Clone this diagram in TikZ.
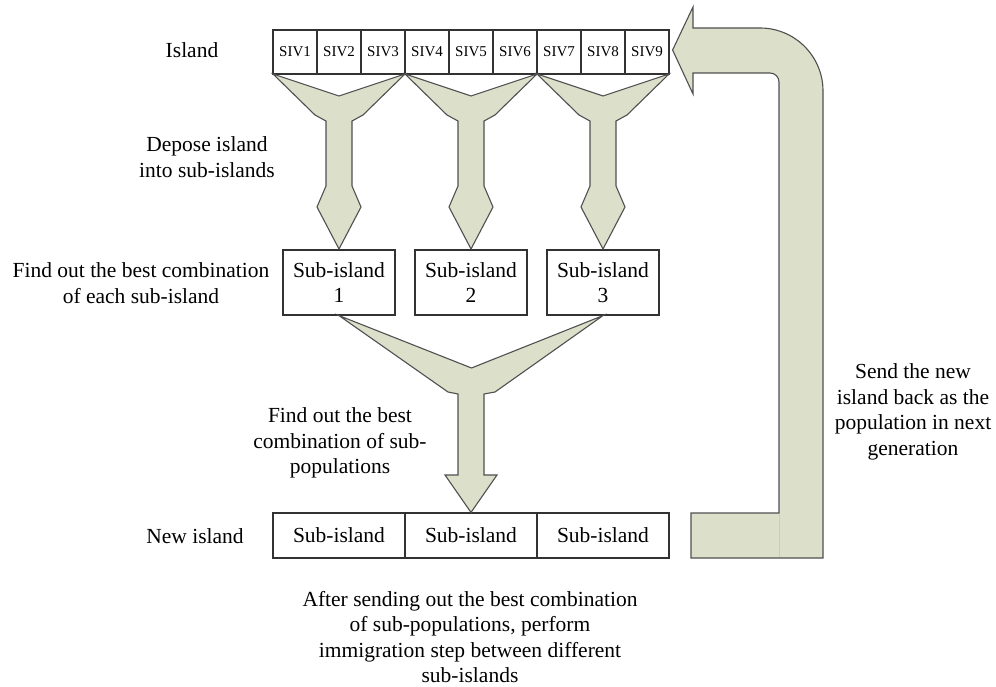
\documentclass[tikz,border=0pt]{standalone}
\usepackage{fontspec}
\setmainfont{Liberation Serif}
\definecolor{arrowfill}{RGB}{220,223,201}
\definecolor{edge}{RGB}{50,50,50}
\definecolor{arrowedge}{RGB}{80,80,80}
\begin{document}
\begin{tikzpicture}[x=1pt,y=-1pt,
  cell/.style={draw=edge, line width=1.2pt, minimum width=44pt, minimum height=44pt,
    inner sep=0pt, font=\fontsize{15}{18}\selectfont},
  subbox/.style={draw=edge, line width=1.2pt, minimum width=112pt, minimum height=65pt,
    inner sep=0pt, align=center, font=\fontsize{21.5}{25}\selectfont},
  newcell/.style={draw=edge, line width=1.2pt, minimum width=132pt, minimum height=45pt,
    inner sep=0pt, font=\fontsize{21.5}{25}\selectfont},
  caption/.style={align=center, inner sep=0pt, font=\fontsize{21.5}{25.5}\selectfont},
  bigarrow/.style={fill=arrowfill, draw=arrowedge, line width=1.1pt, line join=miter}]
\useasboundingbox (0,0) rectangle (996,687);
\fill[white] (0,0) rectangle (996,687);

% island row of nine SIVs
\foreach \i in {1,...,9}
  \node[cell] (siv\i) at ({251+44*\i},52) {SIV\i};

% sub-island boxes
\node[subbox] (sub1) at (339,282.5) {Sub-island\\1};
\node[subbox] (sub2) at (471,282.5) {Sub-island\\2};
\node[subbox] (sub3) at (603,282.5) {Sub-island\\3};

% new island row
\node[newcell] (new1) at (339,535.5) {Sub-island};
\node[newcell] (new2) at (471,535.5) {Sub-island};
\node[newcell] (new3) at (603,535.5) {Sub-island};

% splitting arrows: island -> sub-islands
\foreach \c in {339,471,603}
  \draw[bigarrow] (\c-66,74) -- (\c,96) -- (\c+66,74) -- (\c+24,115) -- (\c+13,121)
    -- (\c+13,186) -- (\c+22,207) -- (\c,249) -- (\c-22,207) -- (\c-13,186)
    -- (\c-13,121) -- (\c-24,115) -- cycle;

% merging arrow: sub-islands -> new island
\draw[bigarrow] (sub1.south) -- (471.5,368) -- (sub3.south) -- (495,392) -- (484,394)
  -- (484,475) -- (497,475) -- (new2.north) -- (445,475) -- (458,475) -- (458,394)
  -- (448,392) -- cycle;

% return arrow: new island -> island
\draw[bigarrow] (siv9.east) ++(3,-2) coordinate (tip)
  (tip) -- (693,7) -- (693,28) -- (760,28)
  .. controls (794.8,28) and (823,56.2) .. (823,91)
  -- (823,558) -- (691,558) -- (691,513) -- (779,513) -- (779,82)
  .. controls (779,77) and (775,73) .. (770,73)
  -- (693,73) -- (693,94) -- cycle;
\draw[arrowedge!30, line width=0.8pt] (779,514) -- (779,557);

% captions
\node[caption] (lisland) at (192,50) {Island};
\node[caption] (ldepose) at (207,157) {Depose island\\into sub-islands};
\node[caption] (lbest) at (141,283) {Find out the best combination\\of each sub-island};
\node[caption] (lcomb) at (340,443) {Find out the best\\combination of sub-\\populations};
\node[caption] (lnew) at (195,536) {New island};
\node[caption] (lafter) at (470,637) {After sending out the best combination\\of sub-populations, perform\\immigration step between different\\sub-islands};
\node[caption] (lsend) at (913,412) {Send the new\\island back as the\\population in next\\generation};
\end{tikzpicture}
\end{document}
